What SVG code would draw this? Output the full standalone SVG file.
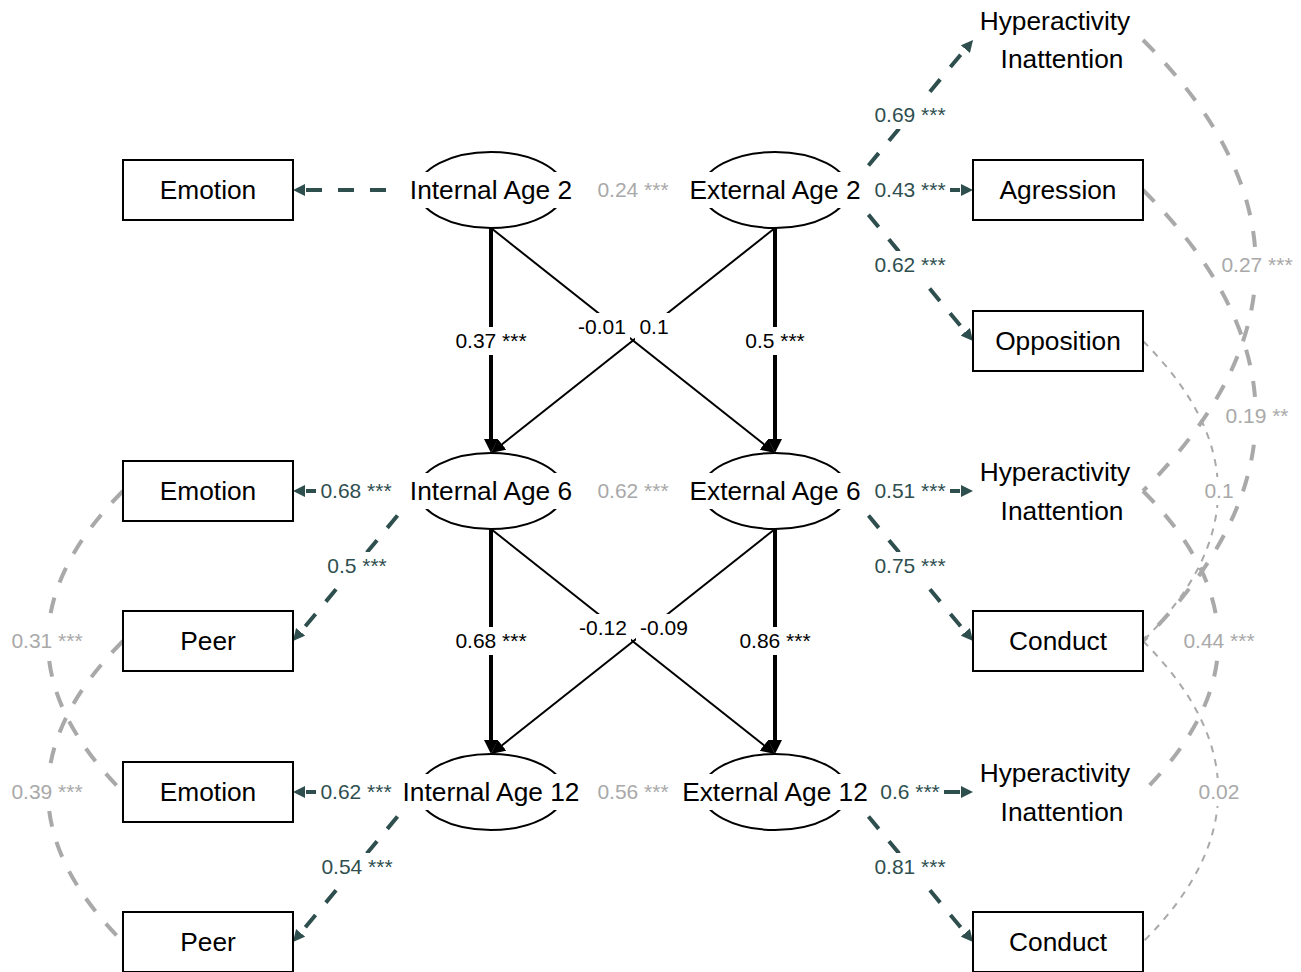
<svg xmlns="http://www.w3.org/2000/svg" width="1301" height="972" viewBox="0 0 1301 972">
<defs>
<style>
text{font-family:"Liberation Sans",Arial,sans-serif}
.nt{font-size:26.3px;fill:#000;text-anchor:middle}
.el{font-size:21px;text-anchor:middle}
.teal{fill:#2F4F4F}
.blk{fill:#000}
.gry{fill:#A9A9A9}
.bg{fill:#fff}
.box{fill:#fff;stroke:#000;stroke-width:2}
.ell{fill:#fff;stroke:#000;stroke-width:2}
.load{fill:none;stroke:#2F4F4F;stroke-width:4;stroke-dasharray:16 16;marker-end:url(#ah-teal)}
.reg{fill:none;stroke:#000;stroke-width:4;marker-end:url(#ah-blk)}
.regt{fill:none;stroke:#000;stroke-width:2;marker-end:url(#ah-blk)}
.cov{fill:none;stroke:#A9A9A9;stroke-width:4;stroke-dasharray:16 16}
.covt{fill:none;stroke:#A9A9A9;stroke-width:2;stroke-dasharray:7 7}
</style>
<marker id="ah-teal" markerUnits="userSpaceOnUse" viewBox="0 0 12 12" markerWidth="12" markerHeight="12" refX="4" refY="6" orient="auto"><path d="M0,0 L12,6 L0,12 z" fill="#2F4F4F"/></marker>
<marker id="ah-blk" markerUnits="userSpaceOnUse" viewBox="0 0 14 14" markerWidth="14" markerHeight="14" refX="6" refY="7" orient="auto"><path d="M0,0 L14,7 L0,14 z" fill="#000"/></marker>
</defs>
<rect width="1301" height="972" fill="#fff"/>

<g id="connectors">
  <!-- covariances (curved) -->
  <path class="cov" d="M123,491 Q-27,641.5 123,792"/>
  <path class="cov" d="M123,641 Q-27,791.5 123,942"/>
  <path class="cov" d="M1143,40 Q1368.5,265.5 1143,491"/>
  <path class="cov" d="M1143,190 Q1368.5,415.5 1143,641"/>
  <path class="covt" d="M1143,341 Q1293,491 1143,641"/>
  <path class="cov" d="M1143,491 Q1293.5,641.5 1143,792"/>
  <path class="covt" d="M1143,641 Q1293.5,791.5 1143,942"/>
  <!-- loadings -->
  <path class="load" d="M418,190 L301,190"/>
  <path class="load" d="M418,491 L301,491"/>
  <path class="load" d="M418,491 L298.1,634.9"/>
  <path class="load" d="M418,792 L301,792"/>
  <path class="load" d="M418,792 L298.1,935.9"/>
  <path class="load" d="M848,190 L967.9,46.1"/>
  <path class="load" d="M848,190 L965,190"/>
  <path class="load" d="M848,190 L967.9,334.8"/>
  <path class="load" d="M848,491 L965,491"/>
  <path class="load" d="M848,491 L967.9,634.9"/>
  <path class="load" d="M848,792 L965,792"/>
  <path class="load" d="M848,792 L967.9,935.9"/>
  <!-- regressions -->
  <path class="reg" d="M491,228 L491,445"/>
  <path class="reg" d="M775,228 L775,445"/>
  <path class="regt" d="M491,228 L768.7,448"/>
  <path class="regt" d="M775,228 L497.3,448"/>
  <path class="reg" d="M491,529 L491,746"/>
  <path class="reg" d="M775,529 L775,746"/>
  <path class="regt" d="M491,529 L768.7,749"/>
  <path class="regt" d="M775,529 L497.3,749"/>
</g>

<g id="edge-labels">
  <rect class="bg" x="316" y="477" width="80" height="28"/><text class="el teal" x="356" y="498.4">0.68 ***</text>
  <rect class="bg" x="323" y="552" width="68" height="28"/><text class="el teal" x="357" y="573.4">0.5 ***</text>
  <rect class="bg" x="316" y="778" width="80" height="28"/><text class="el teal" x="356" y="799.4">0.62 ***</text>
  <rect class="bg" x="317" y="853" width="80" height="28"/><text class="el teal" x="357" y="874.4">0.54 ***</text>
  <rect class="bg" x="870" y="101" width="80" height="28"/><text class="el teal" x="910" y="122.4">0.69 ***</text>
  <rect class="bg" x="870" y="176" width="80" height="28"/><text class="el teal" x="910" y="197.4">0.43 ***</text>
  <rect class="bg" x="870" y="251" width="80" height="28"/><text class="el teal" x="910" y="272.4">0.62 ***</text>
  <rect class="bg" x="870" y="477" width="80" height="28"/><text class="el teal" x="910" y="498.4">0.51 ***</text>
  <rect class="bg" x="870" y="552" width="80" height="28"/><text class="el teal" x="910" y="573.4">0.75 ***</text>
  <rect class="bg" x="876" y="778" width="68" height="28"/><text class="el teal" x="910" y="799.4">0.6 ***</text>
  <rect class="bg" x="870" y="853" width="80" height="28"/><text class="el teal" x="910" y="874.4">0.81 ***</text>

  <rect class="bg" x="451" y="327" width="80" height="28"/><text class="el blk" x="491" y="348.4">0.37 ***</text>
  <rect class="bg" x="741" y="327" width="68" height="28"/><text class="el blk" x="775" y="348.4">0.5 ***</text>
  <rect class="bg" x="574" y="313" width="56" height="28"/><text class="el blk" x="602" y="334.4">-0.01</text>
  <rect class="bg" x="635" y="313" width="38" height="28"/><text class="el blk" x="654" y="334.4">0.1</text>
  <rect class="bg" x="451" y="627" width="80" height="28"/><text class="el blk" x="491" y="648.4">0.68 ***</text>
  <rect class="bg" x="735" y="627" width="80" height="28"/><text class="el blk" x="775" y="648.4">0.86 ***</text>
  <rect class="bg" x="575" y="614" width="56" height="28"/><text class="el blk" x="603" y="635.4">-0.12</text>
  <rect class="bg" x="636" y="614" width="56" height="28"/><text class="el blk" x="664" y="635.4">-0.09</text>

  <rect class="bg" x="593" y="176" width="80" height="28"/><text class="el gry" x="633" y="197.4">0.24 ***</text>
  <rect class="bg" x="593" y="477" width="80" height="28"/><text class="el gry" x="633" y="498.4">0.62 ***</text>
  <rect class="bg" x="593" y="778" width="80" height="28"/><text class="el gry" x="633" y="799.4">0.56 ***</text>
  <rect class="bg" x="7" y="627" width="80" height="28"/><text class="el gry" x="47" y="648.4">0.31 ***</text>
  <rect class="bg" x="7" y="778" width="80" height="28"/><text class="el gry" x="47" y="799.4">0.39 ***</text>
  <rect class="bg" x="1217" y="251" width="80" height="28"/><text class="el gry" x="1257" y="272.4">0.27 ***</text>
  <rect class="bg" x="1221" y="402" width="72" height="28"/><text class="el gry" x="1257" y="423.4">0.19 **</text>
  <rect class="bg" x="1200" y="477" width="38" height="28"/><text class="el gry" x="1219" y="498.4">0.1</text>
  <rect class="bg" x="1179" y="627" width="80" height="28"/><text class="el gry" x="1219" y="648.4">0.44 ***</text>
  <rect class="bg" x="1194" y="778" width="50" height="28"/><text class="el gry" x="1219" y="799.4">0.02</text>
</g>

<g id="internal-age-2"><ellipse class="ell" cx="491" cy="190" rx="73" ry="38"/><rect class="bg" x="399" y="172" width="184" height="36"/><text class="nt" x="491" y="199">Internal Age 2</text></g>
<g id="external-age-2"><ellipse class="ell" cx="775" cy="190" rx="73" ry="38"/><rect class="bg" x="681" y="172" width="188" height="36"/><text class="nt" x="775" y="199">External Age 2</text></g>
<g id="internal-age-6"><ellipse class="ell" cx="491" cy="491" rx="73" ry="38"/><rect class="bg" x="399" y="473" width="184" height="36"/><text class="nt" x="491" y="500">Internal Age 6</text></g>
<g id="external-age-6"><ellipse class="ell" cx="775" cy="491" rx="73" ry="38"/><rect class="bg" x="681" y="473" width="188" height="36"/><text class="nt" x="775" y="500">External Age 6</text></g>
<g id="internal-age-12"><ellipse class="ell" cx="491" cy="792" rx="73" ry="38"/><rect class="bg" x="397" y="774" width="188" height="36"/><text class="nt" x="491" y="801">Internal Age 12</text></g>
<g id="external-age-12"><ellipse class="ell" cx="775" cy="792" rx="73" ry="38"/><rect class="bg" x="677" y="774" width="196" height="36"/><text class="nt" x="775" y="801">External Age 12</text></g>

<g id="emotion-2"><rect class="box" x="123" y="160" width="170" height="60"/><text class="nt" x="208" y="199">Emotion</text></g>
<g id="emotion-6"><rect class="box" x="123" y="461" width="170" height="60"/><text class="nt" x="208" y="500">Emotion</text></g>
<g id="peer-6"><rect class="box" x="123" y="611" width="170" height="60"/><text class="nt" x="208" y="650">Peer</text></g>
<g id="emotion-12"><rect class="box" x="123" y="762" width="170" height="60"/><text class="nt" x="208" y="801">Emotion</text></g>
<g id="peer-12"><rect class="box" x="123" y="912" width="170" height="60"/><text class="nt" x="208" y="951">Peer</text></g>

<g id="hyperactivity-2"><text class="nt" x="1055" y="30">Hyperactivity</text><text class="nt" x="1062" y="68">Inattention</text></g>
<g id="agression-2"><rect class="box" x="973" y="160" width="170" height="60"/><text class="nt" x="1058" y="199">Agression</text></g>
<g id="opposition-2"><rect class="box" x="973" y="311" width="170" height="60"/><text class="nt" x="1058" y="350">Opposition</text></g>
<g id="hyperactivity-6"><text class="nt" x="1055" y="481">Hyperactivity</text><text class="nt" x="1062" y="520">Inattention</text></g>
<g id="conduct-6"><rect class="box" x="973" y="611" width="170" height="60"/><text class="nt" x="1058" y="650">Conduct</text></g>
<g id="hyperactivity-12"><text class="nt" x="1055" y="782">Hyperactivity</text><text class="nt" x="1062" y="821">Inattention</text></g>
<g id="conduct-12"><rect class="box" x="973" y="912" width="170" height="60"/><text class="nt" x="1058" y="951">Conduct</text></g>
</svg>
